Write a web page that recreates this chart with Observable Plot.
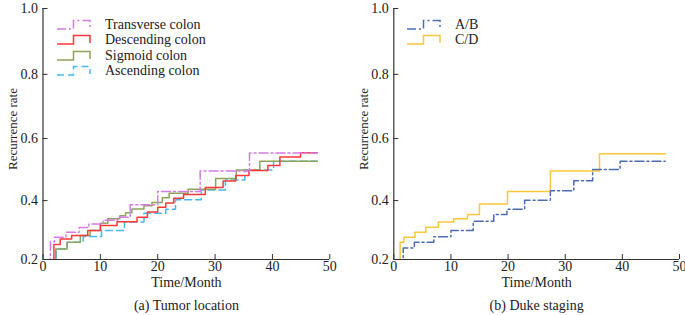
<!DOCTYPE html>
<html>
<head>
<meta charset="utf-8">
<script src="https://cdn.jsdelivr.net/npm/d3@7"></script>
<script src="https://cdn.jsdelivr.net/npm/@observablehq/plot@0.6"></script>
<style>
  body { margin: 0; background: #fff; }
  #wrap { position: relative; width: 685px; height: 315px; overflow: hidden;
          font-family: "Liberation Serif", "Times New Roman", serif; color: #222; }
  .panel { position: absolute; top: 0; }
  .panel svg { overflow: visible; }
  .lg-glyph { position: absolute; }
  .lg-text { position: absolute; font-size: 14px; line-height: 16px; white-space: nowrap; }
</style>
</head>
<body>
<div id="wrap"></div>
<script>
// ---------- data ----------
const xTicks = [0, 10, 20, 30, 40, 50];
const yTicks = [0.2, 0.4, 0.6, 0.8, 1.0];
const xTitle = "Time/Month";
const yTitle = "Recurrence rate";
const captionA = "(a) Tumor location";
const captionB = "(b) Duke staging";

// Panel (a): tumor location
const namesA = ["Transverse colon", "Descending colon", "Sigmoid colon", "Ascending colon"];
const transverseT = [0, 1.3, 2.0, 4.0, 6.3, 8.0, 10.5, 13.0, 15.2, 20.0, 27.4, 36.0, 47.8];
const transverseV = [0, 0.262, 0.277, 0.294, 0.31, 0.322, 0.335, 0.345, 0.386, 0.43, 0.496, 0.554, 0.554];
const descendingT = [0, 1.9, 3.0, 5.0, 7.8, 10.0, 12.9, 16.4, 18.2, 20.0, 21.4, 22.8, 24.5, 28.3, 31.4, 33.6, 35.9, 39.2, 41.3, 44.9, 47.8];
const descendingV = [0, 0.252, 0.271, 0.283, 0.300, 0.317, 0.33, 0.345, 0.362, 0.378, 0.392, 0.408, 0.42, 0.443, 0.464, 0.482, 0.498, 0.514, 0.541, 0.555, 0.555];
const sigmoidT = [0, 2.2, 4.2, 6.5, 8.2, 10.0, 11.3, 13.4, 14.4, 15.5, 17.6, 19.0, 20.8, 22.0, 25.3, 30.1, 33.7, 37.8, 47.8];
const sigmoidV = [0, 0.237, 0.26, 0.283, 0.30, 0.325, 0.34, 0.35, 0.36, 0.372, 0.383, 0.394, 0.409, 0.424, 0.437, 0.472, 0.50, 0.528, 0.528];
const ascendingT = [0, 2.3, 4.2, 7.0, 10.2, 14.2, 17.6, 21.4, 23.1, 27.6, 31.8, 35.2, 40.2, 47.8];
const ascendingV = [0, 0.237, 0.26, 0.28, 0.30, 0.329, 0.358, 0.371, 0.403, 0.435, 0.467, 0.50, 0.528, 0.528];

// Panel (b): Duke staging
const namesB = ["A/B", "C/D"];
const abT = [0, 1.65, 3.6, 7.0, 10.0, 13.9, 17.5, 19.8, 22.9, 27.4, 31.5, 34.8, 39.6, 47.5];
const abV = [0, 0.24, 0.26, 0.279, 0.30, 0.331, 0.354, 0.371, 0.401, 0.432, 0.465, 0.501, 0.528, 0.528];
const cdT = [0, 1.1, 1.75, 3.7, 5.6, 7.8, 10.5, 12.9, 15.0, 19.9, 27.4, 36.0, 47.5];
const cdV = [0, 0.26, 0.277, 0.294, 0.311, 0.329, 0.34, 0.354, 0.389, 0.43, 0.496, 0.552, 0.552];

// ---------- styles ----------
const FONT = '"Liberation Serif", "Times New Roman", serif';
const AXIS = "#333";
const stylesA = [
  {stroke: "#d57ae6", dash: "9,3,2,3"},
  {stroke: "#ff3838", dash: null},
  {stroke: "#8ea45b", dash: null},
  {stroke: "#42bcef", dash: "7,4"}
];
const stylesB = [
  {stroke: "#4d6db2", dash: "9,3,2,3"},
  {stroke: "#fdc63b", dash: null}
];

function table(ts, vs) { return ts.map((t, i) => ({t, v: vs[i]})); }

const seriesA = [
  table(transverseT, transverseV),
  table(descendingT, descendingV),
  table(sigmoidT, sigmoidV),
  table(ascendingT, ascendingV)
];
const seriesB = [table(abT, abV), table(cdT, cdV)];

function panel(series, styles, caption, width, marginLeft, marginRight) {
  const lines = series.map((d, i) => Plot.line(d, {
    x: "t", y: "v", curve: "step-after", clip: true,
    stroke: styles[i].stroke, strokeWidth: 1.5,
    strokeDasharray: styles[i].dash || undefined
  }));
  return Plot.plot({
    width, height: 315,
    marginLeft, marginRight, marginTop: 8, marginBottom: 56,
    style: {fontFamily: FONT, fontSize: "14px", color: "#222", background: "transparent", overflow: "visible"},
    x: {domain: [0, 50]},
    y: {type: "pow", exponent: 1.1, domain: [0.2, 1]},
    marks: [
      ...lines.slice().reverse(),
      Plot.ruleX([0], {stroke: AXIS, strokeWidth: 1.2}),
      Plot.ruleY([0.2], {stroke: AXIS, strokeWidth: 1.2}),
      Plot.axisX(xTicks, {tickSize: 5, dy: -5, fill: "none", stroke: AXIS, label: null}),
      Plot.axisX(xTicks, {tickSize: 0, tickPadding: 2, stroke: "none", fill: "#222", label: null, tickFormat: d => String(d)}),
      Plot.axisY(yTicks, {tickSize: 5, dx: 5, fill: "none", stroke: AXIS, label: null}),
      Plot.axisY(yTicks, {tickSize: 0, tickPadding: 5, stroke: "none", fill: "#222", label: null, tickFormat: d => d.toFixed(1)}),
      Plot.text([xTitle], {frameAnchor: "bottom", lineAnchor: "middle", textAnchor: "middle", dy: 23, fontSize: 14, fill: "#222"}),
      Plot.text([caption], {frameAnchor: "bottom", lineAnchor: "middle", textAnchor: "middle", dy: 46, fontSize: 14, fill: "#222"}),
      Plot.text([yTitle], {frameAnchor: "left", lineAnchor: "middle", textAnchor: "middle", dx: -30, dy: -5, rotate: -90, fontSize: 13, fill: "#222"})
    ]
  });
}

const wrap = document.getElementById("wrap");

function addPanel(svg, left) {
  const div = document.createElement("div");
  div.className = "panel";
  div.style.left = left + "px";
  div.appendChild(svg);
  wrap.appendChild(div);
}

addPanel(panel(seriesA, stylesA, captionA, 343, 42.5, 13.7), 0);
addPanel(panel(seriesB, stylesB, captionB, 342, 50.3, 6), 343);

function legend(names, styles, glyphLeft, textLeft, top0, step) {
  names.forEach((name, i) => {
    const cy = top0 + i * step;
    const ns = "http://www.w3.org/2000/svg";
    const svg = document.createElementNS(ns, "svg");
    svg.setAttribute("width", 36);
    svg.setAttribute("height", 12);
    svg.setAttribute("class", "lg-glyph");
    svg.style.left = glyphLeft + "px";
    svg.style.top = (cy - 6) + "px";
    const p = document.createElementNS(ns, "path");
    p.setAttribute("d", "M0,10 H16.5 V1.5 H33 V9");
    p.setAttribute("fill", "none");
    p.setAttribute("stroke", styles[i].stroke);
    p.setAttribute("stroke-width", 1.5);
    if (styles[i].dash) p.setAttribute("stroke-dasharray", styles[i].dash);
    svg.appendChild(p);
    wrap.appendChild(svg);
    const t = document.createElement("div");
    t.className = "lg-text";
    t.textContent = name;
    t.style.left = textLeft + "px";
    t.style.top = (cy - 8) + "px";
    wrap.appendChild(t);
  });
}

legend(namesA, stylesA, 57, 105, 25, 15.4);
legend(namesB, stylesB, 407, 455, 25, 15.4);
</script>
</body>
</html>
